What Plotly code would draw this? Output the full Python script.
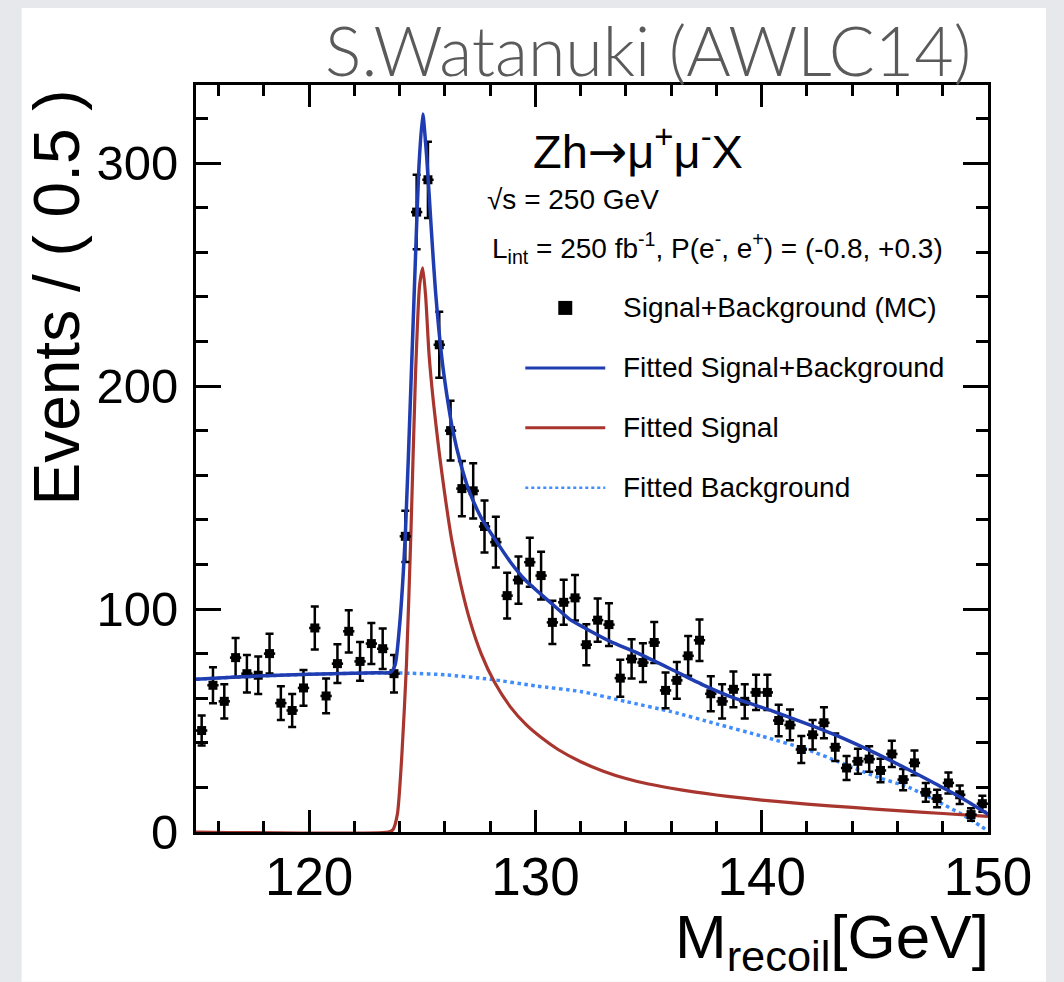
import plotly.graph_objects as go

# ---------------- data ----------------
bin_centers = [115.25, 115.75, 116.25, 116.75, 117.25, 117.75, 118.25, 118.75, 119.25, 119.75,
               120.25, 120.75, 121.25, 121.75, 122.25, 122.75, 123.25, 123.75, 124.25, 124.75,
               125.25, 125.75, 126.25, 126.75, 127.25, 127.75, 128.25, 128.75, 129.25, 129.75,
               130.25, 130.75, 131.25, 131.75, 132.25, 132.75, 133.25, 133.75, 134.25, 134.75,
               135.25, 135.75, 136.25, 136.75, 137.25, 137.75, 138.25, 138.75, 139.25, 139.75,
               140.25, 140.75, 141.25, 141.75, 142.25, 142.75, 143.25, 143.75, 144.25, 144.75,
               145.25, 145.75, 146.25, 146.75, 147.25, 147.75, 148.25, 148.75, 149.25, 149.75]
events = [45.5, 65.8, 58.6, 78.2, 71.0, 70.3, 80.0, 57.8, 54.5, 64.6,
          91.5, 61.0, 75.5, 90.0, 76.5, 84.5, 82.2, 71.0, 132.6, 278.0,
          292.5, 218.5, 180.0, 154.0, 153.0, 137.0, 130.0, 106.0, 113.0, 121.0,
          115.0, 94.0, 103.0, 105.0, 84.0, 95.0, 93.0, 69.0, 77.6, 76.0,
          85.0, 63.5, 68.0, 79.0, 86.0, 62.0, 58.6, 64.0, 58.6, 62.6,
          62.6, 50.0, 48.0, 37.0, 43.6, 49.0, 38.0, 28.7, 31.7, 32.7,
          27.6, 35.0, 23.5, 31.0, 17.8, 15.0, 22.0, 16.7, 7.8, 12.7]
event_errors = [6.7, 8.1, 7.7, 8.8, 8.4, 8.4, 8.9, 7.6, 7.4, 8.0,
                9.6, 7.8, 8.7, 9.5, 8.7, 9.2, 9.1, 8.4, 11.5, 16.7,
                17.1, 14.8, 13.4, 12.4, 12.4, 11.7, 11.4, 10.3, 10.6, 11.0,
                10.7, 9.7, 10.1, 10.2, 9.2, 9.7, 9.6, 8.3, 8.8, 8.7,
                9.2, 8.0, 8.2, 8.9, 9.3, 7.9, 7.7, 8.0, 7.7, 7.9,
                7.9, 7.1, 6.9, 6.1, 6.6, 7.0, 6.2, 5.4, 5.6, 5.7,
                5.3, 5.9, 4.8, 5.6, 4.2, 3.9, 4.7, 4.1, 2.8, 3.6]
bin_half_width = 0.25

# fitted signal + background
sb_x = [115.0, 117.0, 119.0, 121.0, 123.0, 123.6, 123.8, 124.0, 124.25, 124.5,
        124.7, 124.85, 125.02, 125.2, 125.4, 125.58, 125.87, 126.1, 126.35, 126.7,
        127.05, 127.6, 128.23, 128.9, 129.55, 130.2, 130.88, 131.5, 132.2, 133.3,
        134.5, 136.0, 137.4, 138.8, 140.4, 142.0, 143.4, 145.0, 146.5, 147.7,
        148.8, 150.0]
sb_y = [68.5, 69.6, 70.4, 71.0, 71.4, 71.6, 75.0, 93.0, 133.0, 201.0,
        258.0, 298.0, 322.0, 302.0, 270.0, 243.0, 212.0, 195.0, 180.0, 165.0,
        153.5, 141.0, 131.0, 121.0, 113.0, 107.0, 101.0, 95.5, 91.4, 85.5,
        80.3, 73.0, 66.0, 60.0, 54.5, 48.5, 42.9, 35.5, 27.9, 21.5,
        15.5, 8.0]

# fitted signal
sig_x = [115.0, 123.5, 123.7, 123.9, 124.1, 124.3, 124.5, 124.7, 124.88, 125.02,
         125.15, 125.3, 125.5, 125.75, 126.0, 126.3, 126.7, 127.1, 127.6, 128.2,
         128.9, 129.6, 130.3, 131.0, 132.0, 133.0, 134.0, 135.0, 136.0, 137.0,
         138.0, 139.0, 140.0, 142.0, 144.0, 146.0, 148.0, 150.0]
sig_y = [0.0, 0.0, 1.0, 8.0, 35.0, 75.0, 135.0, 205.0, 245.0, 253.0,
         240.0, 214.0, 192.0, 170.0, 151.0, 131.0, 111.0, 95.0, 80.0, 67.0,
         56.0, 48.0, 42.0, 37.0, 31.5, 27.3, 24.0, 21.5, 19.6, 18.0,
         16.6, 15.4, 14.3, 12.5, 11.0, 9.6, 8.3, 7.0]

# fitted background
bkg_x = [115.0, 117.0, 119.0, 121.0, 123.0, 124.5, 126.0, 128.0, 130.0, 132.0,
         134.0, 136.0, 138.0, 140.0, 142.0, 143.4, 145.0, 146.5, 148.0, 149.0, 150.0]
bkg_y = [68.5, 69.6, 70.4, 71.0, 71.3, 71.2, 70.5, 68.5, 65.5, 63.0,
         58.5, 54.0, 48.5, 43.0, 37.0, 31.5, 25.0, 20.0, 12.5, 7.0, 0.5]

x_ticks = [120, 130, 140, 150]
y_ticks = [0, 100, 200, 300]
legend_labels = ["Signal+Background (MC)", "Fitted Signal+Background",
                 "Fitted Signal", "Fitted Background"]

# ---------------- layout geometry ----------------
W, H = 1064, 982
L, R, T, B = 195.5, 988.0, 85.0, 832.3
PW, PH = R - L, B - T


def px(x):
    return (x - L) / PW


def py(y):
    return (B - y) / PH


FONT = "Liberation Sans, Arial, Helvetica, sans-serif"
BLUE = "#1f3cb0"
RED = "#a8362e"
LBLUE = "#3f8cff"

fig = go.Figure()

fig.add_trace(go.Scatter(x=bkg_x, y=bkg_y, mode="lines", name=legend_labels[3],
                         line=dict(color=LBLUE, width=3.5, dash="dot", shape="spline", smoothing=0.6),
                         hoverinfo="skip"))
fig.add_trace(go.Scatter(x=sig_x, y=sig_y, mode="lines", name=legend_labels[2],
                         line=dict(color=RED, width=3.2, shape="spline", smoothing=0.6)))
fig.add_trace(go.Scatter(x=bin_centers, y=events, mode="markers", name=legend_labels[0],
                         marker=dict(symbol="square", size=9, color="black"),
                         error_y=dict(type="data", array=event_errors, color="black", thickness=2.5, width=4),
                         error_x=dict(type="constant", value=bin_half_width, color="black", thickness=2.5, width=0)))
fig.add_trace(go.Scatter(x=sb_x, y=sb_y, mode="lines", name=legend_labels[1],
                         line=dict(color=BLUE, width=3.5, shape="spline", smoothing=0.6)))

shapes = [
    # slide background: white sheet
    dict(type="rect", xref="paper", yref="paper", x0=px(21), x1=px(1046), y0=py(982), y1=py(8),
         fillcolor="white", line=dict(width=0), layer="below"),
]

# manual legend
leg_y = [308, 368, 428, 488]
shapes.append(dict(type="rect", xref="paper", yref="paper", x0=px(558), x1=px(572),
                   y0=py(leg_y[0] + 7), y1=py(leg_y[0] - 7), fillcolor="black", line=dict(width=0)))
for yy, col, dash in [(leg_y[1], BLUE, "solid"), (leg_y[2], RED, "solid"), (leg_y[3], LBLUE, "dot")]:
    shapes.append(dict(type="line", xref="paper", yref="paper", x0=px(525), x1=px(605),
                       y0=py(yy), y1=py(yy), line=dict(color=col, width=3 if dash == "solid" else 2.5, dash=dash)))

annotations = []
for yy, lab in zip(leg_y, legend_labels):
    annotations.append(dict(text=lab, x=px(621), y=py(yy), xref="paper", yref="paper",
                            xanchor="left", yanchor="middle", showarrow=False,
                            font=dict(family=FONT, size=28, color="black")))

annotations += [
    dict(text="Zh<span style='font-family:DejaVu Sans'>\u2192</span>\u03bc<sup>+</sup>\u03bc<sup>-</sup>X",
         x=px(531), y=py(149), xref="paper", yref="paper",
         xanchor="left", yanchor="middle", showarrow=False, font=dict(family=FONT, size=47, color="black")),
    dict(text="\u221as = 250 GeV", x=px(485), y=py(200), xref="paper", yref="paper",
         xanchor="left", yanchor="middle", showarrow=False, font=dict(family=FONT, size=28, color="black")),
    dict(text="L<sub>int</sub> = 250 fb<sup>-1</sup>, P(e<sup>-</sup>, e<sup>+</sup>) = (-0.8, +0.3)",
         x=px(490), y=py(248), xref="paper", yref="paper",
         xanchor="left", yanchor="middle", showarrow=False, font=dict(family=FONT, size=28, color="black")),
    dict(text="S.Watanuki (AWLC14)", x=px(973), y=py(49), xref="paper", yref="paper",
         xanchor="right", yanchor="middle", showarrow=False,
         font=dict(family="Lato", size=68, color="#5a5a5a", weight=300)),
    dict(text="Events / ( 0.5 )", x=px(56), y=py(298), xref="paper", yref="paper", textangle=-90,
         xanchor="center", yanchor="middle", showarrow=False, font=dict(family=FONT, size=64, color="black")),
    dict(text="M<sub>recoil</sub>[GeV]", x=px(991), y=py(941), xref="paper", yref="paper",
         xanchor="right", yanchor="middle", showarrow=False, font=dict(family=FONT, size=62, color="black")),
]

axis_common = dict(showgrid=False, zeroline=False, showline=True, linewidth=3, linecolor="black",
                   mirror="allticks", ticks="inside", tickwidth=2.5, tickcolor="black")

fig.update_layout(
    width=W, height=H,
    margin=dict(l=L, r=W - R, t=T, b=H - B, pad=0),
    paper_bgcolor="#e6e8eb", plot_bgcolor="white",
    showlegend=False,
    shapes=shapes, annotations=annotations,
    xaxis=dict(range=[115, 150], tickvals=x_ticks, ticklen=22, ticklabelstandoff=-4,
               tickfont=dict(family=FONT, size=53, color="black"),
               minor=dict(dtick=2, tick0=0, ticklen=11, ticks="inside", tickwidth=2.5, tickcolor="black", showgrid=False),
               **axis_common),
    yaxis=dict(range=[0, 335], tickvals=y_ticks, ticklen=25, ticklabelstandoff=5,
               tickfont=dict(family=FONT, size=49, color="black"),
               minor=dict(dtick=20, tick0=0, ticklen=12, ticks="inside", tickwidth=2.5, tickcolor="black", showgrid=False),
               **axis_common),
)

fig.write_html("out.html")
